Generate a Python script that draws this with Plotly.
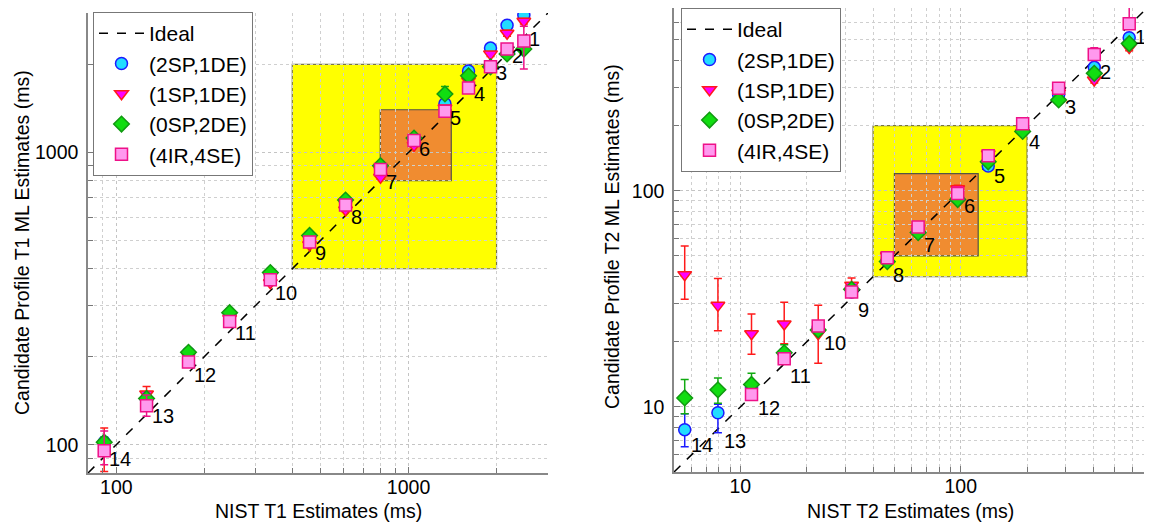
import math
import plotly.graph_objects as go

# ---------------- data ----------------
point_labels = [str(i) for i in range(1, 15)]

t1_nist = [2480, 2173, 1907, 1604, 1332, 1044, 801.7, 608.6, 458.4, 336.5, 244.2, 176.6, 126.9, 90.9]
t2_nist = [581.3, 403.5, 278.1, 190.94, 133.27, 96.89, 64.07, 46.42, 31.97, 22.56, 15.813, 11.237, 7.911, 5.592]

series_names = ["(2SP,1DE)", "(1SP,1DE)", "(0SP,2DE)", "(4IR,4SE)"]

# T1 estimates (ms)
t1_2sp1de = [2950, 2724, 2275, 1900, 1468, 1110, 883, 676, 514, 382, 279, 206, 142, 102]
t1_1sp1de = [2812, 2558, 2170, 1755, 1420, 1057, 822, 635, 483, 358, 270, 201, 149, 100]
t1_0sp2de = [2258, 2172, 1964, 1828, 1585, 1120, 901, 687, 520, 388, 283, 207, 144, 102]
t1_4ir4se = [2404, 2259, 1964, 1663, 1383, 1099, 875, 661, 494, 367, 264, 192, 136, 95.4]

t1_2sp1de_ep = [40, 40, 30, 25, 20, 15, 10, 8, 6, 4, 3, 2, 3, 4]
t1_2sp1de_em = [40, 40, 30, 25, 20, 15, 10, 8, 6, 4, 3, 2, 3, 4]
t1_1sp1de_ep = [60, 60, 40, 30, 20, 15, 12, 8, 6, 5, 4, 3, 9, 14]
t1_1sp1de_em = [60, 60, 40, 30, 20, 15, 12, 8, 6, 5, 4, 3, 8, 19]
t1_0sp2de_ep = [40, 40, 30, 40, 95, 30, 20, 10, 6, 4, 3, 2, 3, 4]
t1_0sp2de_em = [40, 40, 30, 40, 30, 30, 20, 10, 6, 4, 3, 2, 3, 4]
t1_4ir4se_ep = [300, 80, 40, 40, 25, 20, 12, 8, 6, 4, 3, 3, 12, 16]
t1_4ir4se_em = [474, 80, 40, 40, 25, 20, 12, 8, 6, 4, 3, 3, 11, 10]

# T2 estimates (ms)
t2_2sp1de = [510, 372, 278, 196, 130, 92, 66.5, 48, 34, 23.4, 17.6, 12.3, 9.4, 7.85]
t2_1sp1de = [459, 325, 283, 186, 148, 102, 67, 50, 36.5, 21.8, 24.2, 21.8, 29.5, 40.9]
t2_0sp2de = [479, 349, 263, 188, 136, 91, 64, 47, 35, 22.7, 17.8, 12.7, 12.0, 11.0]
t2_4ir4se = [592, 427, 298, 204, 145, 97, 68, 49, 34, 23.7, 16.7, 11.4, None, None]

t2_2sp1de_ep = [15, 10, 6, 4, 3, 2, 1.5, 1, 0.8, 0.6, 0.5, 0.4, 0.9, 1.45]
t2_2sp1de_em = [15, 10, 6, 4, 3, 2, 1.5, 1, 0.8, 0.6, 0.5, 0.4, 1.8, 1.3]
t2_1sp1de_ep = [15, 10, 8, 5, 5, 4, 2, 1.5, 3, 7.7, 6.3, 5.1, 9.8, 14.6]
t2_1sp1de_em = [15, 10, 8, 5, 5, 4, 2, 1.5, 3, 5.9, 4.6, 4.3, 7.0, 9.4]
t2_0sp2de_ep = [15, 10, 8, 5, 4, 3, 2, 1.5, 1, 0.8, 1.6, 1.6, 1.6, 2.4]
t2_0sp2de_em = [15, 10, 8, 5, 4, 3, 2, 1.5, 1, 0.8, 1.5, 1.3, 1.6, 1.7]
t2_4ir4se_ep = [150, 32, 8, 5, 5, 3, 2, 1.5, 1, 0.8, 0.5, 0.4, 0, 0]
t2_4ir4se_em = [20, 10, 6, 4, 3, 2, 1.5, 1, 0.8, 0.6, 0.5, 0.4, 0, 0]

t1_range = [80, 3000]
t2_range = [5, 700]
t1_major = [100, 1000]
t1_minor = [90, 200, 300, 400, 500, 600, 700, 800, 900, 2000, 3000]
t2_major = [10, 100]
t2_minor = [6, 7, 8, 9, 20, 30, 40, 50, 60, 70, 80, 90, 200, 300, 400, 500, 600, 700]
t1_boxes = [(400, 2000), (800, 1400)]
t2_boxes = [(40, 200), (50, 120)]

# ---------------- page geometry ----------------
# The browser page has an 8px body margin, so the figure starts at (8, 8).
OFF = 8
W, H = 1152 - OFF, 529 - OFF


def px(x):
    return (x - OFF) / W


def py(y):
    return (H - (y - OFF)) / H


# ---------------- styles ----------------
FONT = "Liberation Sans, Arial, Helvetica, sans-serif"
styles = [
    dict(symbol="circle", fill="#22ddff", edge="#1a1aff", err="#1a1aff"),
    dict(symbol="triangle-down", fill="#ff00ff", edge="#ff1a1a", err="#ff1a1a"),
    dict(symbol="diamond", fill="#11dd11", edge="#119911", err="#11aa11"),
    dict(symbol="square", fill="#ff99ee", edge="#ee1188", err="#ee1188"),
]

fig = go.Figure()

t1_sets = [(t1_2sp1de, t1_2sp1de_ep, t1_2sp1de_em), (t1_1sp1de, t1_1sp1de_ep, t1_1sp1de_em),
           (t1_0sp2de, t1_0sp2de_ep, t1_0sp2de_em), (t1_4ir4se, t1_4ir4se_ep, t1_4ir4se_em)]
t2_sets = [(t2_2sp1de, t2_2sp1de_ep, t2_2sp1de_em), (t2_1sp1de, t2_1sp1de_ep, t2_1sp1de_em),
           (t2_0sp2de, t2_0sp2de_ep, t2_0sp2de_em), (t2_4ir4se, t2_4ir4se_ep, t2_4ir4se_em)]

for xa, ya, leg, rng, nist, sets in [("x", "y", "legend", t1_range, t1_nist, t1_sets),
                                     ("x2", "y2", "legend2", t2_range, t2_nist, t2_sets)]:
    fig.add_trace(go.Scatter(x=rng, y=rng, mode="lines", name="Ideal",
                             line=dict(color="black", dash="dash", width=1.5),
                             xaxis=xa, yaxis=ya, legend=leg))
    for name, st, (vals, ep, em) in zip(series_names, styles, sets):
        fig.add_trace(go.Scatter(
            x=nist, y=vals, mode="markers", name=name, xaxis=xa, yaxis=ya, legend=leg,
            marker=dict(symbol=st["symbol"], size=12, color=st["fill"],
                        line=dict(color=st["edge"], width=1.5)),
            error_y=dict(type="data", symmetric=False, array=ep, arrayminus=em,
                         color=st["err"], thickness=1.5, width=4),
        ))

# highlight boxes
box_colors = [("#ffff00", "#777744"), ("#f08c30", "#555544")]
for (xr, yr, boxes) in [("x", "y", t1_boxes), ("x2", "y2", t2_boxes)]:
    for (lo, hi), (fc, lc) in zip(boxes, box_colors):
        fig.add_shape(type="rect", xref=xr, yref=yr, x0=lo, x1=hi, y0=lo, y1=hi,
                      fillcolor=fc, line=dict(color=lc, width=1.2), layer="below")

# point labels (annotations on log axes use log10 coordinates)
for lab, v in zip(point_labels, t1_nist):
    fig.add_annotation(x=math.log10(v), y=math.log10(v), xref="x", yref="y", text=lab,
                       showarrow=False, xanchor="left", yanchor="middle", xshift=3, yshift=-2,
                       font=dict(family=FONT, size=20, color="black"))
for lab, v in zip(point_labels, t2_nist):
    fig.add_annotation(x=math.log10(v), y=math.log10(max(v, 7.6)), xref="x2", yref="y2",
                       text=lab, showarrow=False, xanchor="left", yanchor="middle",
                       xshift=4, yshift=-12, font=dict(family=FONT, size=20, color="black"))


def axis_cfg(rng, major, minor, domain, anchor, standoff):
    return dict(
        type="log", range=[math.log10(rng[0]), math.log10(rng[1])], domain=domain,
        anchor=anchor, tickvals=major, ticktext=[str(m) for m in major],
        ticks="inside", ticklen=6, tickcolor="#777777", tickwidth=1, ticklabelstandoff=standoff,
        showline=True, linecolor="#888888", linewidth=1.5, mirror=False,
        showgrid=True, gridcolor="#c4c4c4", griddash="dot", gridwidth=1,
        zeroline=False, automargin=False,
        tickfont=dict(family=FONT, size=19.5, color="black"),
        minor=dict(tickvals=minor, ticks="inside", ticklen=5, tickcolor="#777777",
                   showgrid=True, gridcolor="#cfcfcf", griddash="dot", gridwidth=1),
    )


LEG_FONT = dict(family=FONT, size=21, color="black")
fig.update_layout(
    width=W, height=H, margin=dict(l=0, r=0, t=0, b=0),
    paper_bgcolor="white", plot_bgcolor="white",
    font=dict(family=FONT, size=19, color="black"),
    xaxis=axis_cfg(t1_range, t1_major, t1_minor, [px(88), px(548)], "y", -4),
    yaxis=axis_cfg(t1_range, t1_major, t1_minor, [py(473), py(13)], "x", 4),
    xaxis2=axis_cfg(t2_range, t2_major, t2_minor, [px(674), px(1147)], "y2", -4),
    yaxis2=axis_cfg(t2_range, t2_major, t2_minor, [py(472), 1], "x2", 4),
    legend=dict(x=px(93), y=py(12), xanchor="left", yanchor="top",
                bgcolor="white", bordercolor="#777777", borderwidth=1,
                font=LEG_FONT, tracegroupgap=0, itemwidth=45),
    legend2=dict(x=px(681), y=1, xanchor="left", yanchor="top",
                 bgcolor="white", bordercolor="#777777", borderwidth=1,
                 font=LEG_FONT, tracegroupgap=0, itemwidth=45),
    showlegend=True,
)

# axis titles
title_font = dict(family=FONT, size=19.5, color="black")
fig.add_annotation(x=px(318), y=py(511), xref="paper", yref="paper", showarrow=False,
                   xanchor="center", yanchor="middle", text="NIST T1 Estimates (ms)", font=title_font)
fig.add_annotation(x=px(910), y=py(511), xref="paper", yref="paper", showarrow=False,
                   xanchor="center", yanchor="middle", text="NIST T2 Estimates (ms)", font=title_font)
fig.add_annotation(x=px(22), y=py(243), xref="paper", yref="paper", showarrow=False,
                   xanchor="center", yanchor="middle", textangle=-90,
                   text="Candidate Profile T1 ML Estimates (ms)", font=title_font)
fig.add_annotation(x=px(612), y=py(237), xref="paper", yref="paper", showarrow=False,
                   xanchor="center", yanchor="middle", textangle=-90,
                   text="Candidate Profile T2 ML Estimates (ms)", font=title_font)

fig.write_html("out.html")
